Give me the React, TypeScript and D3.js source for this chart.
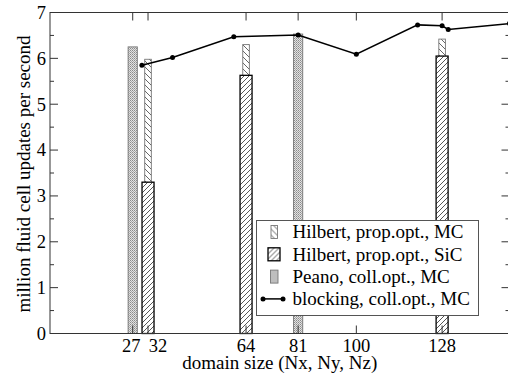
import React from 'react';
import * as d3 from 'd3';

// domain sizes shown on the x axis
const sizeTicks = [27, 32, 64, 81, 100, 128];

// Peano, coll.opt., MC
const peanoN = [27, 81];
const peanoMC = [6.25, 6.53];

// Hilbert, prop.opt.
const hilbertN = [32, 64, 128];
const hilbertMC = [5.98, 6.3, 6.42];
const hilbertSiC = [3.3, 5.63, 6.05];

// blocking, coll.opt., MC
const blockN = [30, 40, 60, 81, 100, 120, 128, 130, 150];
const blockMC = [5.85, 6.02, 6.47, 6.51, 6.09, 6.73, 6.71, 6.63, 6.76];

const legendItems = [
  'Hilbert, prop.opt., MC',
  'Hilbert, prop.opt., SiC',
  'Peano, coll.opt., MC',
  'blocking, coll.opt., MC'
];

const W = 508,
  H = 376;
const margin = { top: 12.5, right: -1.5, bottom: 42.5, left: 50 };
const font = "'Liberation Serif', 'Times New Roman', Times, 'DejaVu Serif', serif";

export default function App() {
  const x = d3
    .scaleLinear()
    .domain([0, 150])
    .range([margin.left, W - margin.right]);
  const y = d3
    .scaleLinear()
    .domain([0, 7])
    .range([H - margin.bottom, margin.top]);

  const x0 = x.range()[0],
    x1 = x.range()[1],
    y0 = y.range()[0],
    y1 = y.range()[1];

  const majorY = y.ticks(7);
  const minorY = y.ticks(14).filter(d => !majorY.includes(d));

  const line = d3
    .line<number>()
    .x((d, i) => x(blockN[i]))
    .y(d => y(d));

  const axisColor = '#333';
  const lg = { x: 256.5, y: 220.5, w: 222, h: 95, row: 22.3 };
  const txt = { fontFamily: font, fontSize: 19 };
  const tickTxt = { fontFamily: font, fontSize: 18.5 };

  return (
    <svg width={W} height={H} style={{ position: 'absolute', left: 0, top: 0, background: '#fff' }}>
      <defs>
        <pattern id="stipple" width="2" height="2" patternUnits="userSpaceOnUse">
          <rect width="2" height="2" fill="#e2e2e2" />
          <rect width="1" height="1" fill="#8a8a8a" />
          <rect x="1" y="1" width="1" height="1" fill="#a8a8a8" />
        </pattern>
        <pattern id="hatchMC" width="6" height="6" patternUnits="userSpaceOnUse">
          <rect width="6" height="6" fill="#fff" />
          <path d="M-1,-1 L7,7 M-1,5 L1,7 M5,-1 L7,1" stroke="#555" strokeWidth="0.9" />
        </pattern>
        <pattern id="hatchSiC" width="5" height="5" patternUnits="userSpaceOnUse">
          <rect width="5" height="5" fill="#fff" />
          <path d="M-1,6 L6,-1 M-1,1 L1,-1 M4,6 L6,4" stroke="#444" strokeWidth="0.9" />
        </pattern>
      </defs>

      {/* Peano bars */}
      {peanoMC.map((v, i) => (
        <rect
          key={'p' + i}
          x={x(peanoN[i]) - 4.6}
          y={y(v)}
          width={9.2}
          height={y0 - y(v)}
          fill="url(#stipple)"
          stroke="#777"
          strokeWidth={0.9}
        />
      ))}

      {/* Hilbert MC bars */}
      {hilbertMC.map((v, i) => (
        <rect
          key={'hm' + i}
          x={x(hilbertN[i]) - 3.3}
          y={y(v)}
          width={6.6}
          height={y0 - y(v)}
          fill="url(#hatchMC)"
          stroke="#777"
          strokeWidth={0.9}
        />
      ))}

      {/* Hilbert SiC bars */}
      {hilbertSiC.map((v, i) => (
        <rect
          key={'hs' + i}
          x={x(hilbertN[i]) - 6}
          y={y(v)}
          width={12}
          height={y0 - y(v)}
          fill="url(#hatchSiC)"
          stroke="#000"
          strokeWidth={1.3}
        />
      ))}

      {/* frame */}
      <rect x={x0} y={y1} width={x1 - x0} height={y0 - y1} fill="none" stroke={axisColor} strokeWidth={1} />

      {/* y ticks */}
      {majorY.map(d => (
        <g key={'y' + d}>
          <line x1={x0} x2={x0 + 8} y1={y(d)} y2={y(d)} stroke={axisColor} />
          <line x1={x1} x2={x1 - 8} y1={y(d)} y2={y(d)} stroke={axisColor} />
          <text x={x0 - 4} y={y(d)} dy="0.34em" textAnchor="end" style={tickTxt}>
            {d}
          </text>
        </g>
      ))}
      {minorY.map(d => (
        <g key={'ym' + d}>
          <line x1={x0} x2={x0 + 4} y1={y(d)} y2={y(d)} stroke={axisColor} />
          <line x1={x1} x2={x1 - 4} y1={y(d)} y2={y(d)} stroke={axisColor} />
        </g>
      ))}

      {/* x ticks */}
      {sizeTicks.map(d => (
        <g key={'x' + d}>
          <line x1={x(d)} x2={x(d)} y1={y0} y2={y0 - 8} stroke={axisColor} />
          <line x1={x(d)} x2={x(d)} y1={y1} y2={y1 + 8} stroke={axisColor} />
          <text
            x={x(d)}
            dx={d === 27 ? -1.5 : d === 32 ? 10 : 0}
            y={y0 + 18.5}
            textAnchor="middle"
            style={tickTxt}
          >
            {d}
          </text>
        </g>
      ))}

      {/* blocking line */}
      <path d={line(blockMC) || ''} fill="none" stroke="#000" strokeWidth={1.5} />
      {blockMC.map((v, i) => (
        <circle key={'c' + i} cx={x(blockN[i])} cy={y(v)} r={2.5} fill="#000" />
      ))}

      {/* axis titles */}
      <text x={(x0 + x1) / 2} y={369} textAnchor="middle" style={txt}>
        domain size (Nx, Ny, Nz)
      </text>
      <text transform={`translate(30, ${(y0 + y1) / 2 + 1}) rotate(-90)`} textAnchor="middle" style={txt}>
        million fluid cell updates per second
      </text>

      {/* legend */}
      <g transform={`translate(${lg.x}, ${lg.y})`}>
        <rect width={lg.w} height={lg.h} fill="#fff" stroke="#555" strokeWidth={1} />
        {legendItems.map((t, i) => {
          const cy = 11.5 + i * lg.row;
          return (
            <g key={t}>
              {i === 0 && (
                <rect x={14.5} y={cy - 6.5} width={6.5} height={13} fill="url(#hatchMC)" stroke="#777" strokeWidth={0.9} />
              )}
              {i === 1 && (
                <rect x={11.5} y={cy - 6.5} width={12} height={13} fill="url(#hatchSiC)" stroke="#000" strokeWidth={1.3} />
              )}
              {i === 2 && (
                <rect x={14} y={cy - 6.5} width={7.5} height={13} fill="url(#stipple)" stroke="#777" strokeWidth={0.9} />
              )}
              {i === 3 && (
                <g>
                  <line x1={6.5} x2={26.5} y1={cy} y2={cy} stroke="#000" strokeWidth={1.5} />
                  <circle cx={6.5} cy={cy} r={2.5} fill="#000" />
                  <circle cx={26.5} cy={cy} r={2.5} fill="#000" />
                </g>
              )}
              <text x={36} y={cy} dy="0.34em" style={txt}>
                {t}
              </text>
            </g>
          );
        })}
      </g>
    </svg>
  );
}
